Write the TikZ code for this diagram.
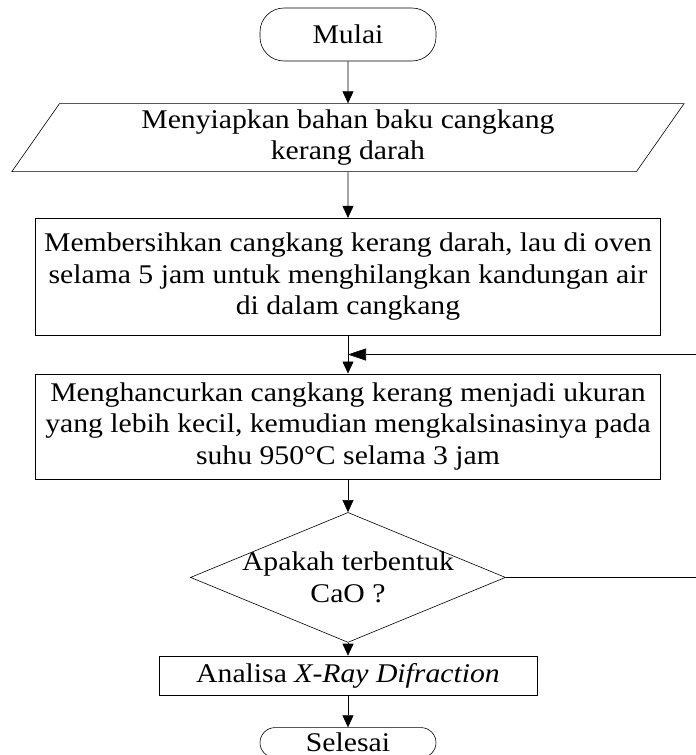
\documentclass[tikz,border=0pt]{standalone}
\usepackage{fontspec}
\setmainfont[FakeStretch=1.1]{Liberation Serif}
\usetikzlibrary{arrows.meta,positioning,shapes.geometric}
\tikzset{
  flowbox/.style={
    draw=black, line width=0.6pt, align=center,
    font=\fontsize{27}{31.5}\selectfont,
    minimum width=625pt, inner sep=4pt},
  flowterm/.style={
    flowbox, rounded corners=24pt, minimum width=176pt, minimum height=53pt},
  flowdata/.style={
    flowbox, trapezium, trapezium left angle=61.5, trapezium right angle=118.5,
    trapezium stretches=true, minimum width=675pt, minimum height=68pt},
  flowdecide/.style={
    flowbox, diamond, aspect=2.4, inner sep=-10pt,
    minimum width=315pt, minimum height=130pt},
  flowarrow/.style={
    -{Triangle[length=12pt,width=11pt]}, line width=0.6pt},
}
\begin{document}
\begin{tikzpicture}
  \useasboundingbox (0,0) rectangle (696pt,-755pt);
  \node[flowterm] (mulai) at (348pt,-34.5pt) {Mulai};
  \node[flowdata, below=42pt of mulai] (siap) {Menyiapkan bahan baku cangkang\\kerang darah};
  \node[flowbox, below=46pt of siap, minimum height=117pt] (bersih)
    {Membersihkan cangkang kerang darah, lau di oven\\selama 5 jam untuk menghilangkan kandungan air\\di dalam cangkang};
  \node[flowbox, below=38pt of bersih, minimum height=105pt] (hancur)
    {Menghancurkan cangkang kerang menjadi ukuran\\yang lebih kecil, kemudian mengkalsinasinya pada\\suhu 950°C selama 3 jam};
  \node[flowdecide, below=33pt of hancur] (cek) {Apakah terbentuk\\CaO ?};
  \node[flowbox, below=13pt of cek, minimum width=378pt, minimum height=39pt] (xrd)
    {Analisa \textit{X-Ray Difraction}};
  \node[flowterm, below=32pt of xrd, rounded corners=15pt, minimum height=30pt,
        inner sep=1pt] (selesai) {Selesai};
  % alur utama
  \draw[flowarrow] (mulai) -- (siap);
  \draw[flowarrow] (siap) -- (bersih);
  \draw[flowarrow] (bersih) -- (hancur);
  \draw[flowarrow] (hancur) -- (cek);
  \draw[flowarrow] (cek) -- (xrd);
  \draw[flowarrow] (xrd) -- (selesai);
  % kembali jika belum terbentuk CaO
  \path (bersih.south) -- (hancur.north) coordinate[midway] (masuk);
  \coordinate (tepi) at (700pt,0);
  \draw[flowarrow, -{Triangle[length=18pt,width=12pt]}]
    (cek.east) -- (cek.east -| tepi) -- (masuk -| tepi) -- (masuk);
\end{tikzpicture}
\end{document}
